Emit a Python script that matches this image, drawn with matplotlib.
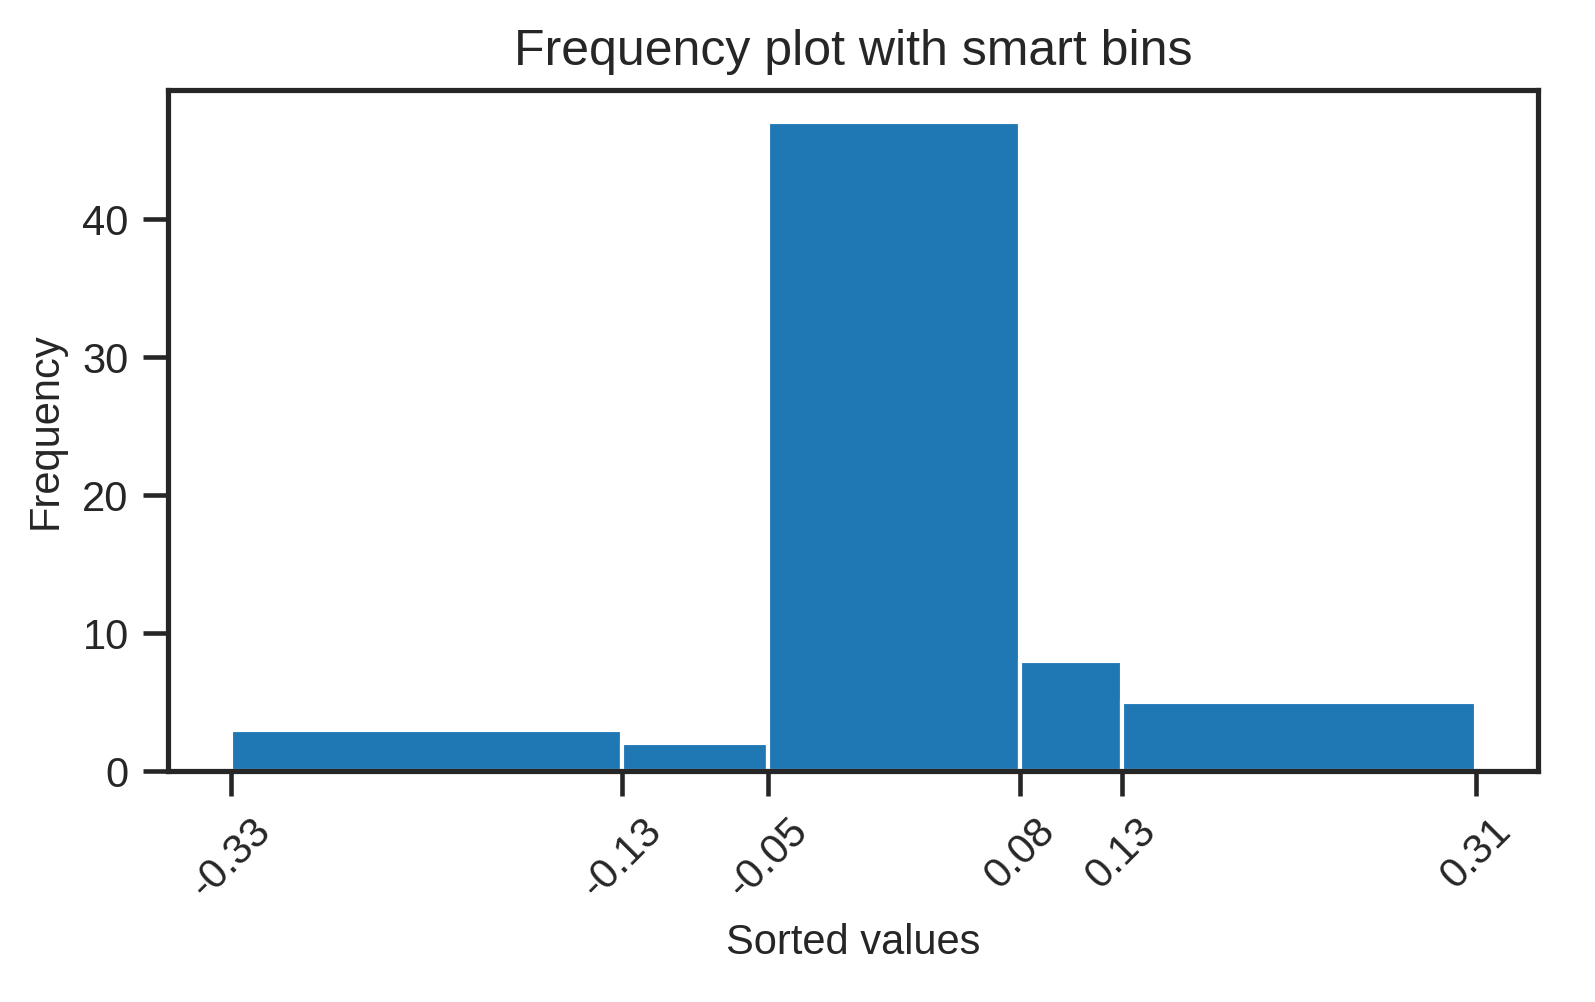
import numpy as np
import matplotlib
matplotlib.use("Agg")
import matplotlib.pyplot as plt
import seaborn as sns

# bin edges (smart bins) and counts
bin_edges = [-0.33, -0.129, -0.054, 0.076, 0.128, 0.31]
counts = [3, 2, 47, 8, 5]
tick_labels = [f"{e:.2f}" for e in bin_edges]

sns.set_style("ticks")
plt.rcParams['font.family'] = ['Liberation Sans', 'DejaVu Sans']

fig = plt.figure(figsize=(1595 / 300, 1002 / 300), dpi=300)
ax = fig.add_subplot(111)
fig.subplots_adjust(left=0.1055, right=0.9643, top=0.9102, bottom=0.2305)

ax.hist(bin_edges[:-1], bins=bin_edges, weights=counts,
        color='#1f77b4', edgecolor='white', linewidth=1.0)

ax.set_xticks(bin_edges)
ax.set_xticklabels(tick_labels, rotation=45)
ax.tick_params(axis='both', labelsize=10, length=6, width=1.1, colors='.15')
for s in ax.spines.values():
    s.set_linewidth(1.25)
    s.set_color('.15')

ax.set_title('Frequency plot with smart bins', fontsize=12, color='.15')
ax.set_xlabel('Sorted values', fontsize=10, color='.15')
ax.set_ylabel('Frequency', fontsize=10, color='.15')

fig.savefig('out.png', dpi=300)
